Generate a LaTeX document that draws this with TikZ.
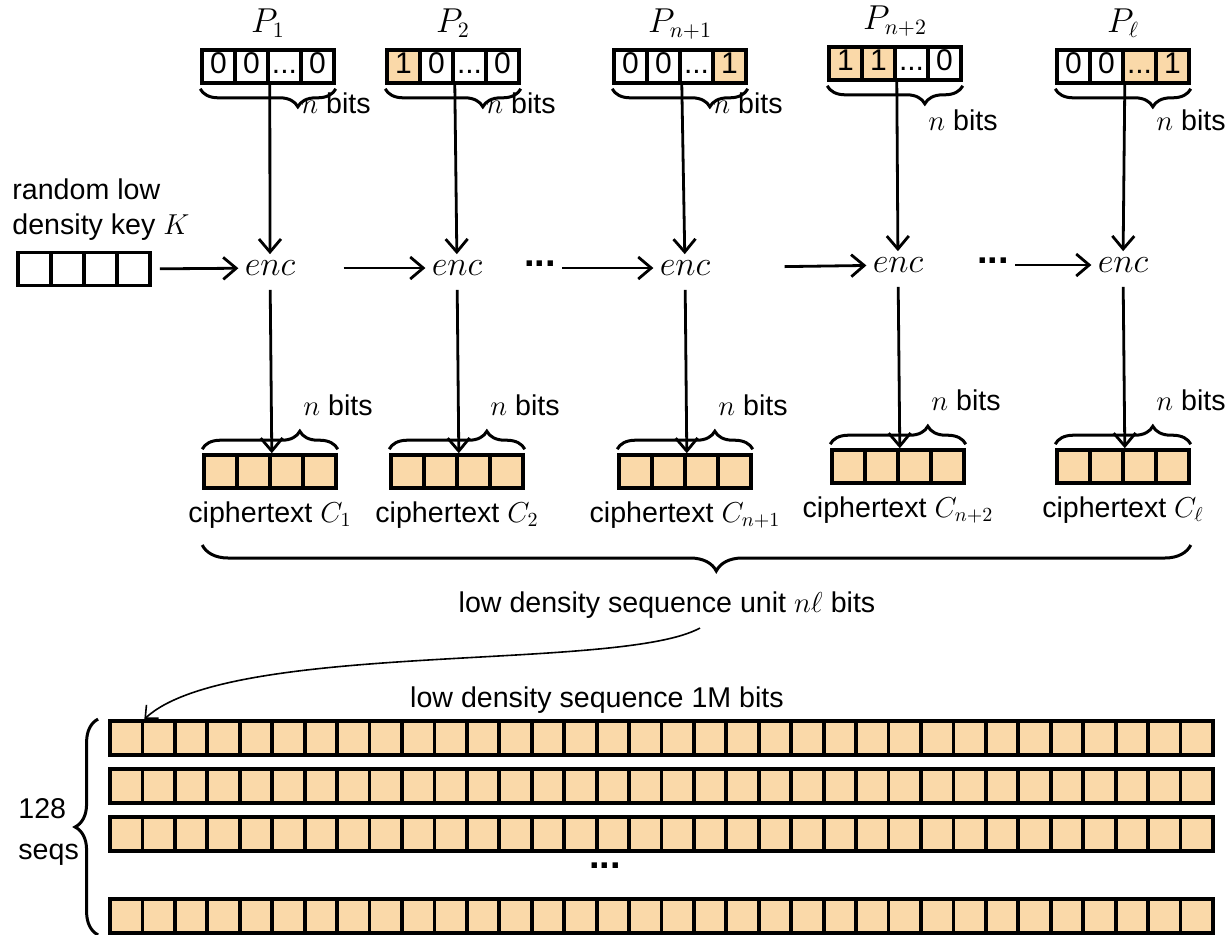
\documentclass[tikz,border=0pt]{standalone}
\usepackage[no-math]{fontspec}
\setmainfont{Liberation Sans}
\usepackage{xcolor}
\definecolor{bitOrange}{HTML}{FAD9A9}
\usepackage{tikz}
\usetikzlibrary{arrows.meta,positioning,decorations.pathreplacing}
\newcommand\bitdots{...}
\newcommand\chaindots{\raisebox{0.25em}{\bfseries...}}
\tikzset{
  bitcell/.style={
    draw,
    line width=1.8pt,
    minimum width=16.5pt,
    minimum height=16.5pt,
    inner sep=0pt,
    text height=0.72em,
    text depth=0pt,
    font=\fontsize{15}{15}\selectfont
  },
  seqcell/.style={
    draw,
    fill=bitOrange,
    line width=1.9pt,
    minimum width=16.22pt,
    minimum height=17pt,
    inner sep=0pt
  },
  enclbl/.style={font=\fontsize{19}{19}\selectfont, inner sep=3pt},
  mathlbl/.style={font=\fontsize{16}{16}\selectfont, inner sep=0pt},
  txtlbl/.style={font=\fontsize{14.3}{17.5}\selectfont, inner sep=2pt},
  dotlbl/.style={font=\fontsize{19}{19}\selectfont, inner sep=3pt},
  flowline/.style={
    line width=1.4pt,
    -{Straight Barb[length=6.5pt,width=11pt]}
  },
  thinarrow/.style={
    line width=0.8pt,
    -{Straight Barb[length=5pt,width=9pt]}
  },
  pbrace/.style={line width=1.5pt, decorate,
    decoration={brace, mirror, amplitude=9pt, raise=2pt, aspect=0.72}},
  cbrace/.style={line width=1.5pt, decorate,
    decoration={brace, amplitude=9pt, raise=2pt, aspect=0.72}},
  bigbrace/.style={line width=1.5pt, decorate,
    decoration={brace, mirror, amplitude=13pt, aspect=0.52}},
  seqbrace/.style={line width=1.5pt, decorate,
    decoration={brace, amplitude=11.5pt, raise=5pt, aspect=0.5}}
}

\begin{document}
\begin{tikzpicture}[x=0.5pt,y=-0.5pt]
  \useasboundingbox (0,0) rectangle (1227,934);
  % key
  \node[txtlbl, anchor=west, align=left] (keylbl) at (8,210) {random low\\density key $K$};
  \foreach \i in {1,...,4}
    \node[bitcell] (k-\i) at ({18+33*(\i-0.5)},269) {};
  % one column per block: plaintext, enc, ciphertext
  \foreach \col/\px/\py/\ny/\ex/\ey/\cy/\plab/\clab/\cells in {
    1/268/50/103/270/268/455/{P_1}/{C_1}/{0/white,0/white,\bitdots/white,0/white},
    2/453/50/103/457/268/455/{P_2}/{C_2}/{1/bitOrange,0/white,\bitdots/white,0/white},
    3/680/50/103/685/268/455/{P_{n+1}}/{C_{n+1}}/{0/white,0/white,\bitdots/white,1/bitOrange},
    4/895/47/120/898/265/450/{P_{n+2}}/{C_{n+2}}/{1/bitOrange,1/bitOrange,\bitdots/white,0/white},
    5/1123/50/120/1123/265/450/{P_\ell}/{C_\ell}/{0/white,0/white,\bitdots/bitOrange,1/bitOrange}}{
    \node[enclbl] (enc\col) at (\ex,\ey) {$enc$};
    \foreach \v/\f [count=\i] in \cells
      \node[bitcell, fill=\f] (p\col-\i) at ({\px+33*(\i-2.5)},\py+16.5) {\v};
    \node[mathlbl, anchor=base] (plbl\col) at (\px,\py-18) {$\plab$};
    \draw[pbrace] (p\col-1.south west) -- (p\col-4.south east);
    \node[txtlbl, anchor=west] (pbits\col) at (\px+29,\ny) {$n$ bits};
    \draw[flowline] (p\col-2.south east) -- (enc\col);
    \foreach \i in {1,...,4}
      \node[bitcell, fill=bitOrange] (c\col-\i) at ({\ex+33*(\i-2.5)},\cy+16.5) {};
    \draw[cbrace] (c\col-1.north west) -- (c\col-4.north east);
    \node[txtlbl, anchor=west] (cbits\col) at (\ex+29,\cy-50) {$n$ bits};
    \node[txtlbl, anchor=north] (clbl\col) at (\ex,\cy+42) {ciphertext $\clab$};
    \draw[flowline, shorten <=4pt] (enc\col) -- (c\col-2.north east);
  }
  % chain of enc
  \draw[flowline, shorten <=4pt] (k-4) -- (enc1);
  \draw[flowline, shorten <=21pt] (enc1) -- (enc2);
  \node[dotlbl] (dots2) at (540,268) {\chaindots};
  \draw[flowline] (dots2) -- (enc3);
  \draw[flowline, shorten <=34pt] (enc3) -- (enc4);
  \node[dotlbl] (dots4) at (993,265) {\chaindots};
  \draw[flowline] (dots4) -- (enc5);
  % sequence unit
  \draw[bigbrace] (c1-1.south west |- 0,545) -- (c5-4.south east |- 0,545);
  \node[txtlbl] (unitlbl) at (667,605) {low density sequence unit $n\ell$ bits};
  \coordinate (unitfoot) at (700,628);
  \node[txtlbl] (seqlbl) at (597,700) {low density sequence 1M bits};
  \foreach \r/\ry in {1/738,2/786,3/834,4/916}
    \foreach \i in {1,...,34}
      \node[seqcell] (r\r-\i) at ({110+32.44*(\i-0.5)},\ry) {};
  \node[dotlbl] (rowdots) at (605,870) {\chaindots};
  \draw[thinarrow] (unitfoot) .. controls (620,672) and (230,640) .. (r1-1.north east);
  \draw[seqbrace] (r4-1.south west) -- (r1-1.north west);
  \node[txtlbl, anchor=west, align=left] (seqcount) at (14,832) {128\\[3pt]seqs};
\end{tikzpicture}
\end{document}
